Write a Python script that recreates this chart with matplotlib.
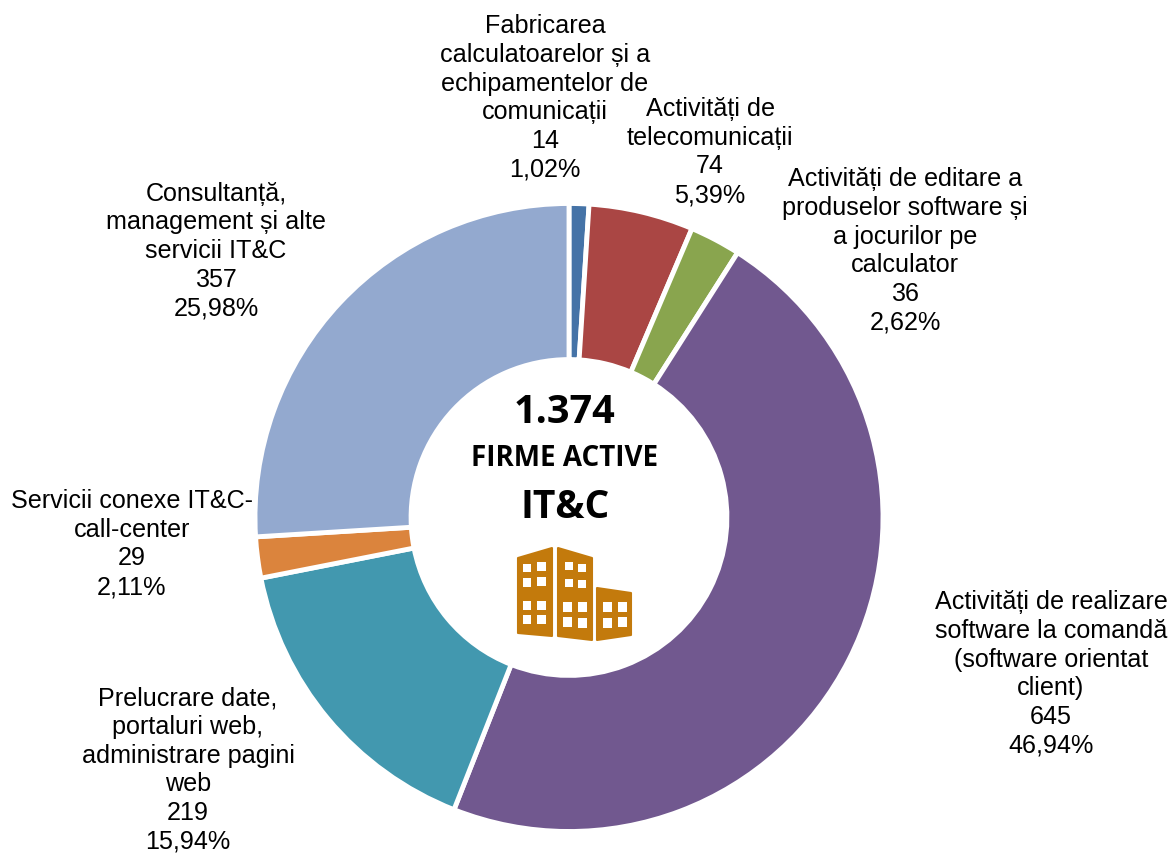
import matplotlib
matplotlib.use("Agg")
import matplotlib.pyplot as plt
from matplotlib.patches import Polygon, Rectangle

plt.rcParams['font.family'] = ['Liberation Sans', 'DejaVu Sans']

labels = ["Fabricarea\ncalculatoarelor și a\nechipamentelor de\ncomunicații",
          "Activități de\ntelecomunicații",
          "Activități de editare a\nproduselor software și\na jocurilor pe\ncalculator",
          "Activități de realizare\nsoftware la comandă\n(software orientat\nclient)",
          "Prelucrare date,\nportaluri web,\nadministrare pagini\nweb",
          "Servicii conexe IT&C-\ncall-center",
          "Consultanță,\nmanagement și alte\nservicii IT&C"]
values = [14, 74, 36, 645, 219, 29, 357]
shares = ["1,02%", "5,39%", "2,62%", "46,94%", "15,94%", "2,11%", "25,98%"]
colors = ["#4573A7", "#AA4644", "#89A54E", "#71588F", "#4298AF", "#DB843D", "#93A9CF"]
label_pos = [(545, 98), (710, 152), (905, 251), (1051, 674), (188, 770), (132, 544), (216, 251)]

W, H = 1170, 854
fig = plt.figure(figsize=(W / 100, H / 100), dpi=100)
ax = fig.add_axes([0, 0, 1, 1])

# y axis runs downwards so positions read as pixels; the pie angles are flipped to suit
cx, cy, r = 569, 518.5, 314
ax.pie(values, colors=colors, center=(cx, cy), radius=r, startangle=-90, counterclock=True,
       wedgeprops=dict(width=r * 0.497, edgecolor="white", linewidth=3.5), frame=False)
ax.set_xlim(0, W)
ax.set_ylim(H, 0)
ax.set_aspect("auto")
ax.axis("off")

for lab, v, s, (x, y) in zip(labels, values, shares, label_pos):
    ax.text(x, y, f"{lab}\n{v}\n{s}", ha="center", va="center", fontsize=18.1,
            linespacing=1.25, color="black")

bold = ["Open Sans", "DejaVu Sans"]
ax.text(565, 413, "1.374", ha="center", va="center", fontsize=28.5, fontweight="bold", family=bold)
ax.text(565, 459, "FIRME ACTIVE", ha="center", va="center", fontsize=20, fontweight="bold", family=bold)
ax.text(565, 507, "IT&C", ha="center", va="center", fontsize=28, fontweight="bold", family=bold)

# building icon
icon = "#C37A0C"
buildings = [[(518, 559), (552, 549), (552, 637), (518, 634)],
             [(558, 549), (592, 559), (592, 641), (558, 637)],
             [(597, 589), (631, 594), (631, 636), (597, 641)]]
for pts in buildings:
    ax.add_patch(Polygon(pts, closed=True, facecolor=icon, edgecolor=icon, linewidth=1.5,
                         joinstyle="round", zorder=5))
windows = [(523, 565, 8, 8), (537, 563, 9, 9), (523, 579, 8, 9), (537, 578, 9, 9),
           (523, 602, 8, 9), (537, 602, 9, 9), (523, 616, 8, 9), (537, 616, 9, 9),
           (565, 563, 8, 8), (578, 565, 8, 8), (565, 580, 8, 8), (578, 581, 8, 8),
           (563, 603, 9, 10), (578, 603, 9, 10), (563, 618, 9, 10), (578, 619, 9, 10),
           (603, 603, 9, 10), (618, 603, 9, 10), (603, 619, 9, 10), (618, 618, 9, 10)]
for x0, y0, w, h in windows:
    ax.add_patch(Rectangle((x0, y0), w, h, facecolor="white", edgecolor="none", zorder=6))

fig.savefig("out.png", dpi=100)
